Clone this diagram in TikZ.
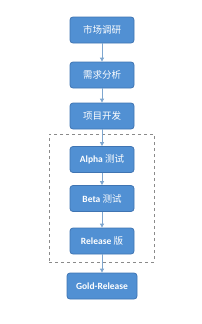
\documentclass[tikz,border=0pt]{standalone}
\usepackage{fontspec}
\setmainfont{Carlito}
\newfontfamily\cjk{Noto Sans CJK SC}
\usetikzlibrary{arrows.meta}
\definecolor{boxfill}{HTML}{5190D3}
\definecolor{boxline}{HTML}{3F74B2}
\definecolor{arrowc}{HTML}{7EA6CF}
\definecolor{dashc}{HTML}{8A8A8A}
\begin{document}
\begin{tikzpicture}[x=1pt,y=-1pt,
  stepbox/.style={draw=boxline,line width=0.8pt,fill=boxfill,rounded corners=3pt,
    minimum width=64pt,minimum height=26pt,inner sep=0pt,text=white,font=\fontsize{9.5}{11}\selectfont},
  conn/.style={draw=arrowc,line width=0.8pt,-{Triangle[length=4pt,width=4pt]}}]
\useasboundingbox (0,0) rectangle (201,324);
\node[stepbox] (a) at (102,30) {\cjk 市场调研};
\node[stepbox] (b) at (102,75) {\cjk 需求分析};
\node[stepbox] (c) at (102,116) {\cjk 项目开发};
\node[stepbox] (d) at (102,159.5) {\bfseries Alpha {\cjk\mdseries 测试}};
\node[stepbox] (e) at (102,198.5) {\bfseries Beta {\cjk\mdseries 测试}};
\node[stepbox] (f) at (102,241) {\bfseries Release {\cjk\mdseries 版}};
\node[stepbox,minimum width=70pt] (g) at (102,286) {\bfseries Gold-Release};
\node[draw=dashc,dashed,line width=0.6pt,inner sep=0pt,minimum width=105pt,minimum height=128pt] (grp) at (101.5,198) {};
\draw[conn] (a) -- (b);
\draw[conn] (b) -- (c);
\draw[conn] (c) -- (d);
\draw[conn] (d) -- (e);
\draw[conn] (e) -- (f);
\draw[conn] (f) -- (g);
\end{tikzpicture}
\end{document}
